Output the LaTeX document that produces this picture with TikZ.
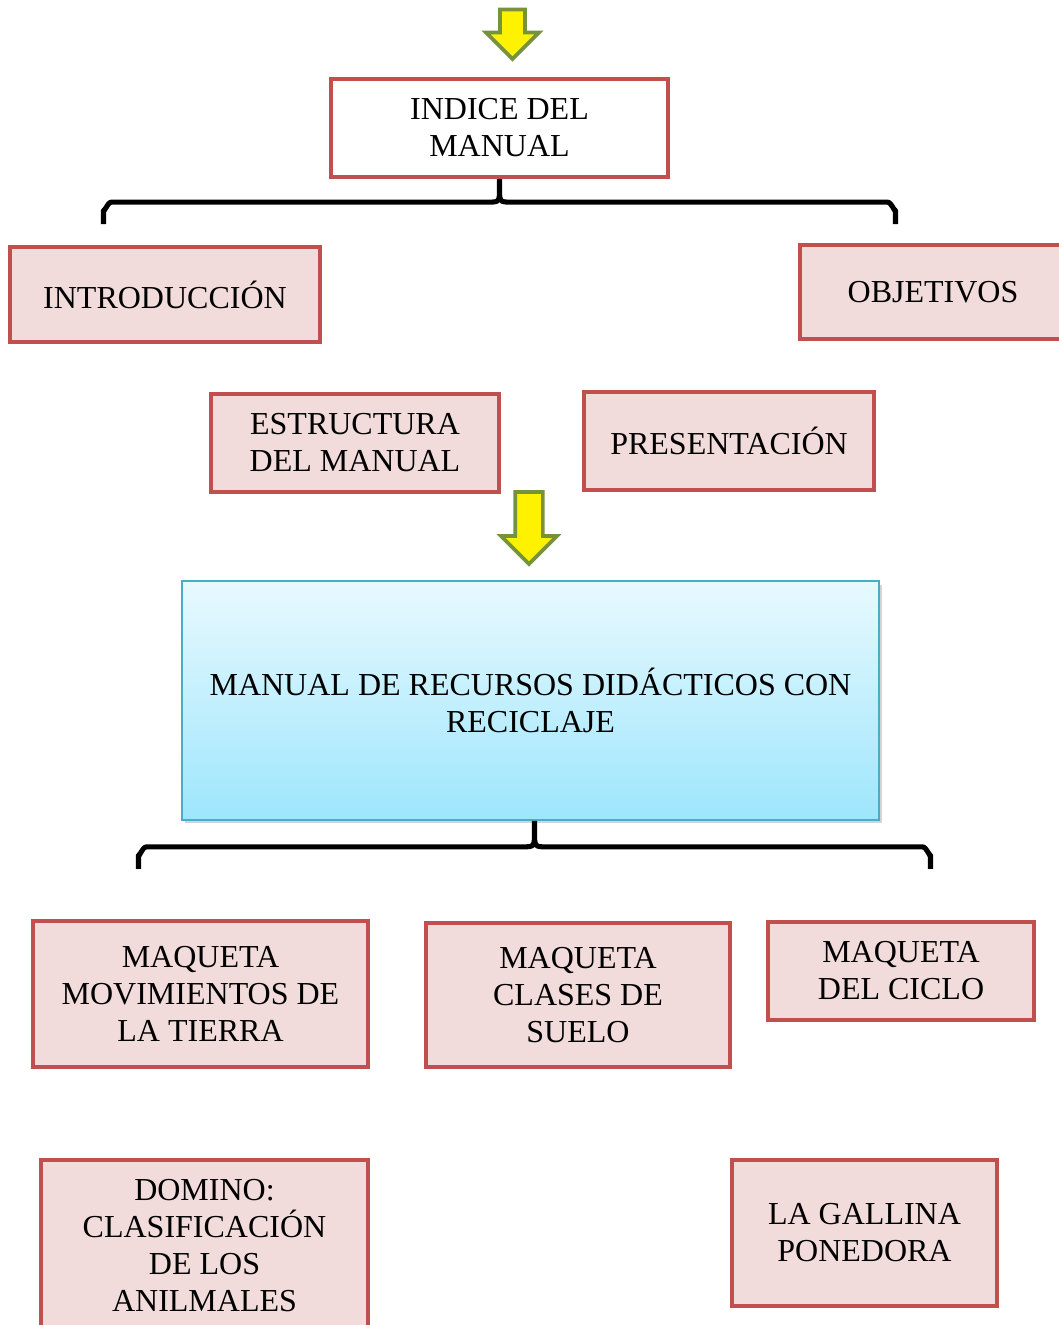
\documentclass[tikz,border=0pt]{standalone}
\usepackage{fontspec}
\setmainfont{Liberation Serif}
\usepackage{tikz}
\usetikzlibrary{shapes.arrows,shadows,calc}
\definecolor{boxred}{HTML}{C0504D}
\definecolor{boxpink}{HTML}{F2DCDB}
\definecolor{arrowgreen}{HTML}{76923C}
\definecolor{mainline}{HTML}{4BACC6}
\definecolor{maintop}{HTML}{E8F9FF}
\definecolor{mainbottom}{HTML}{9EE6FC}

\begin{document}
\begin{tikzpicture}[x=0.75pt, y=-0.75pt,
  txt/.style={font=\fontsize{24}{27.75}\selectfont, align=center, inner sep=0pt},
  redbox/.style={txt, draw=boxred, line width=3.2pt, fill=boxpink},
  downarrow/.style={single arrow, rotate=-90, draw=arrowgreen, fill=yellow, line width=2.8pt, inner xsep=0pt},
  bracket/.style={line width=3.8pt, line join=round}]

  \useasboundingbox (0,0) rectangle (1059,1325);

  \node[downarrow, minimum height=37pt, inner ysep=8pt, single arrow head extend=10.5pt] (a1) at (512.5,28) {};

  \node[txt, draw=boxred, line width=3.2pt, fill=white, minimum width=253pt, minimum height=73.5pt] (indice) at (499.5,128) {INDICE DEL\\MANUAL};

  \node[redbox, minimum width=232.5pt, minimum height=71pt] (intro) at (165,294.5) {INTRODUCCIÓN};
  \node[redbox, minimum width=200pt, minimum height=70.5pt] (obj) at (933,292) {OBJETIVOS};

  \node[redbox, minimum width=216pt, minimum height=73.5pt] (estr) at (355,443) {ESTRUCTURA\\DEL MANUAL};
  \node[redbox, minimum width=217.5pt, minimum height=73.5pt] (pres) at (729,441) {PRESENTACIÓN};

  \node[downarrow, minimum height=54pt, inner ysep=9pt, single arrow head extend=10.5pt] (a2) at (529,521) {};

  \node[txt, draw=mainline, line width=1.5pt, top color=maintop, bottom color=mainbottom,
        drop shadow={shadow xshift=2pt, shadow yshift=-2.5pt, opacity=0.35},
        minimum width=523pt, minimum height=179pt] (manual) at (530.5,700.5)
        {MANUAL DE RECURSOS DIDÁCTICOS CON\\RECICLAJE};

  \node[redbox, minimum width=251pt, minimum height=109.5pt] (mq1) at (200.5,994) {MAQUETA\\MOVIMIENTOS DE\\LA TIERRA};
  \node[redbox, minimum width=228pt, minimum height=108pt] (mq2) at (578,995) {MAQUETA\\CLASES DE\\SUELO};
  \node[redbox, minimum width=199.5pt, minimum height=73.5pt] (mq3) at (901,971) {MAQUETA\\DEL CICLO};

  \node[redbox, minimum width=245pt, minimum height=129pt] (dom) at (204.5,1246) {DOMINO:\\CLASIFICACIÓN\\DE LOS\\ANILMALES};
  \node[redbox, minimum width=199pt, minimum height=110pt] (gal) at (864.5,1233) {LA GALLINA\\PONEDORA};

  % llaves
  \coordinate (t1) at (indice.south);
  \draw[bracket] ($(t1)+(-396,45)$) -- ($(t1)+(-396,31)$) to[out=-90,in=180] ($(t1)+(-388,23)$)
    -- ($(t1)+(-12,23)$) .. controls ($(t1)+(0,23)$) .. ($(t1)+(0,8)$) -- (t1)
    ($(t1)+(0,8)$) .. controls ($(t1)+(0,23)$) .. ($(t1)+(12,23)$)
    -- ($(t1)+(388,23)$) to[out=0,in=-90] ($(t1)+(396,31)$) -- ($(t1)+(396,45)$);

  \coordinate (t2) at ($(manual.south)+(4,0)$);
  \draw[bracket] ($(t2)+(-396,48)$) -- ($(t2)+(-396,34)$) to[out=-90,in=180] ($(t2)+(-388,26)$)
    -- ($(t2)+(-12,26)$) .. controls ($(t2)+(0,26)$) .. ($(t2)+(0,10)$) -- (t2)
    ($(t2)+(0,10)$) .. controls ($(t2)+(0,26)$) .. ($(t2)+(12,26)$)
    -- ($(t2)+(388,26)$) to[out=0,in=-90] ($(t2)+(396,34)$) -- ($(t2)+(396,48)$);

\end{tikzpicture}
\end{document}
